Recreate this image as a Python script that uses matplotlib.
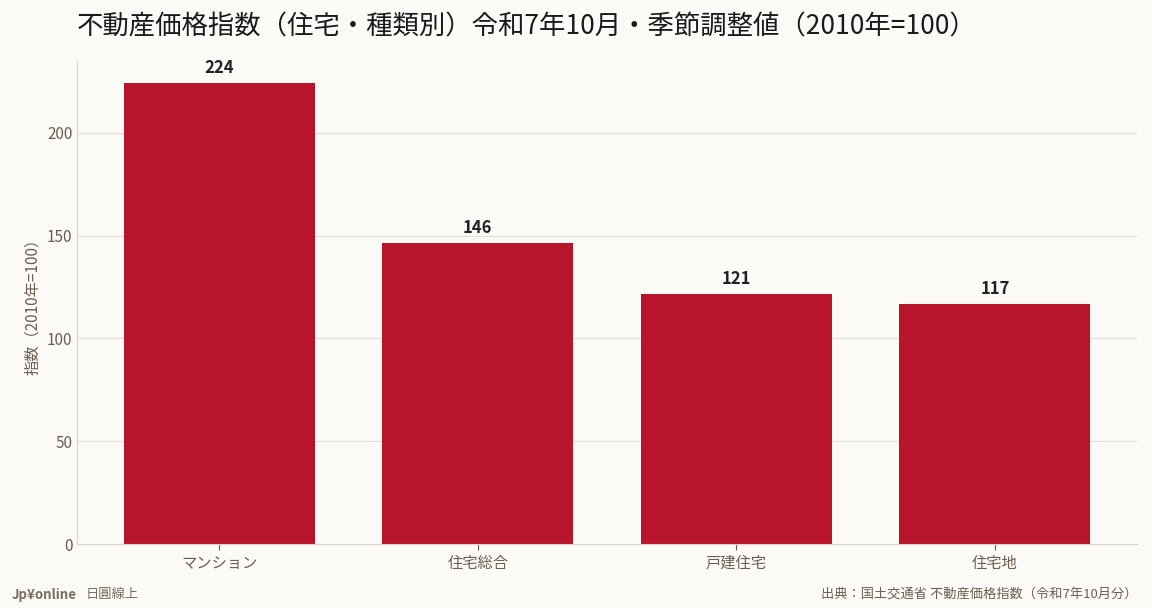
import matplotlib
matplotlib.use("Agg")
import matplotlib.pyplot as plt

plt.rcParams['font.family'] = ['Noto Sans CJK JP', 'DejaVu Sans']

categories = ["マンション", "住宅総合", "戸建住宅", "住宅地"]
values = [224.0, 146.3, 121.4, 116.6]
labels = ["224", "146", "121", "117"]

bg = "#fbfaf7"
fig = plt.figure(figsize=(11.52, 6.08), dpi=100, facecolor=bg)
ax = fig.add_axes([0.067, 0.105, 0.92, 0.795], facecolor=bg)
x = range(len(categories))
bars = ax.bar(x, values, width=0.74, color="#b8152c", zorder=2)
for xi, v, l in zip(x, values, labels):
    ax.text(xi, v + 3, l, ha="center", va="bottom", fontsize=12, fontweight="bold", color="#222222")
ax.set_xticks(list(x))
ax.set_xticklabels(categories, fontsize=11, color="#6b5e4f")
ax.set_xlim(-0.55, 3.55)
ax.set_ylim(0, 235)
ax.set_yticks([0, 50, 100, 150, 200])
ax.tick_params(axis='y', labelsize=11, colors="#6b5e4f", length=0)
ax.tick_params(axis='x', colors="#6b5e4f", length=4)
ax.grid(axis='y', color="#e4e0d8", linewidth=0.8, zorder=3)
for s in ["top", "right"]:
    ax.spines[s].set_visible(False)
for s in ["left", "bottom"]:
    ax.spines[s].set_color("#d8d3ca")
ax.set_ylabel("指数（2010年=100）", fontsize=11, color="#6b5e4f")
fig.text(0.067, 0.955, "不動産価格指数（住宅・種類別）令和7年10月・季節調整値（2010年=100）",
         fontsize=19, ha="left", va="center", color="#1a1a1a")
fig.text(0.01, 0.022, "Jp¥online", fontsize=9.5, fontweight="bold", color="#7a6e5e", ha="left", va="center")
fig.text(0.074, 0.022, "日圓線上", fontsize=9.5, color="#7a6e5e", ha="left", va="center")
fig.text(0.987, 0.022, "出典：国土交通省 不動産価格指数（令和7年10月分）", fontsize=9.5, color="#6b5e4f", ha="right", va="center")
fig.savefig("out.png", dpi=100, facecolor=bg)
